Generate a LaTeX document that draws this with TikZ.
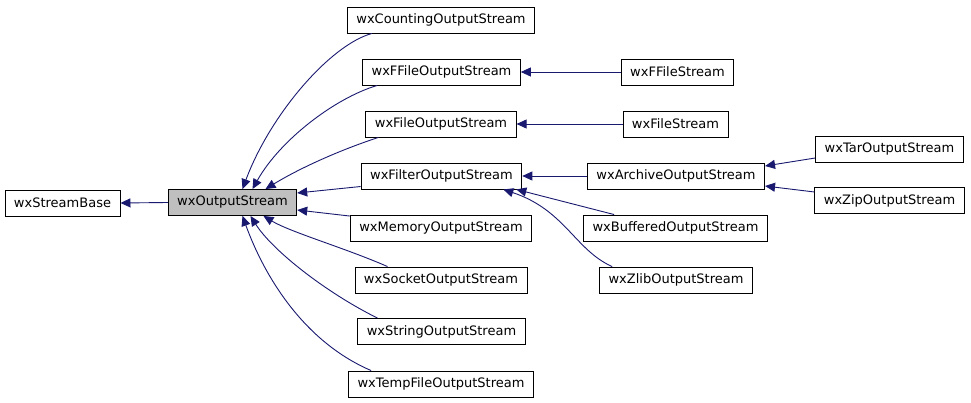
\documentclass[tikz,border=0pt]{standalone}
\usepackage{fontspec}
\setmainfont{DejaVu Sans}
\usetikzlibrary{arrows.meta, calc, positioning}
\definecolor{dxNavy}{HTML}{191970}
\definecolor{dxGrey}{HTML}{BFBFBF}
\tikzset{
  classbox/.style  = {draw=black, line width=0.9pt, fill=white, minimum height=26pt,
                      inner xsep=9pt, inner ysep=0pt, font=\fontsize{13}{15}\selectfont},
  focusbox/.style  = {classbox, fill=dxGrey},
  inherit/.style   = {-{Triangle[length=10pt, width=9pt]}, dxNavy, line width=0.9pt},
}

\begin{document}
\begin{tikzpicture}[x=1pt,y=-1pt]
  \useasboundingbox (0,0) rectangle (971,403);
  % base classes
  \node[classbox] (base) at (62.5,203) {wxStreamBase};
  \node[focusbox] (out)  at (232.5,202.5) {wxOutputStream};
  % direct subclasses
  \node[classbox] (count)   at (441,20)    {wxCountingOutputStream};
  \node[classbox] (ffout)   at (441.5,72)  {wxFFileOutputStream};
  \node[classbox] (fileout) at (441,124)   {wxFileOutputStream};
  \node[classbox] (filter)  at (441.5,176) {wxFilterOutputStream};
  \node[classbox] (mem)     at (441,228.5) {wxMemoryOutputStream};
  \node[classbox] (sock)    at (441,280)   {wxSocketOutputStream};
  \node[classbox] (str)     at (441.5,331.5) {wxStringOutputStream};
  \node[classbox] (temp)    at (441,384)   {wxTempFileOutputStream};
  % third column
  \node[classbox] (ffile) at (677.5,72)  {wxFFileStream};
  \node[classbox] (file)  at (675.5,124) {wxFileStream};
  \node[classbox] (arch)  at (676,176)   {wxArchiveOutputStream};
  \node[classbox] (buff)  at (675.5,228) {wxBufferedOutputStream};
  \node[classbox] (zlib)  at (676,280)   {wxZlibOutputStream};
  % archive formats
  \node[classbox] (tar) at (889.5,149)   {wxTarOutputStream};
  \node[classbox] (zip) at (889.5,200.5) {wxZipOutputStream};

  % inheritance arrows
  \draw[inherit] (out.west) -- (base.east);
  \draw[inherit] ([xshift=25pt]count.south west) .. controls (330,45) and (270,115) .. ([xshift=10pt]out.north);
  \draw[inherit] ([xshift=15pt]ffout.south west) .. controls (335,98) and (280,140) .. ([xshift=20pt]out.north);
  \draw[inherit] ([xshift=13pt]fileout.south west) .. controls (340,150) and (300,168) .. ([xshift=33pt]out.north);
  \draw[inherit] ([yshift=-10.5pt]filter.west) -- ([yshift=9.5pt]out.east);
  \draw[inherit] ([yshift=-1pt]mem.north west) -- ([yshift=-7.5pt]out.east);
  \draw[inherit] ([xshift=33pt]sock.north west) .. controls (345,248) and (290,232) .. ([xshift=31pt]out.south);
  \draw[inherit] ([xshift=20pt]str.north west) .. controls (325,292) and (272,250) .. ([xshift=18pt]out.south);
  \draw[inherit] ([xshift=23pt]temp.north west) .. controls (300,340) and (262,270) .. ([xshift=10pt]out.south);
  \draw[inherit] (ffile.west) -- (ffout.east);
  \draw[inherit] (file.west) -- (fileout.east);
  \draw[inherit] (arch.west) -- (filter.east);
  \draw[inherit] ([xshift=31pt]buff.north west) -- ([xshift=-6pt]filter.south east);
  \draw[inherit] ([xshift=13pt]zlib.north west) .. controls (575,250) and (565,210) .. ([xshift=-19pt]filter.south east);
  \draw[inherit] ([yshift=-9pt]tar.west) -- ([yshift=10pt]arch.east);
  \draw[inherit] ([yshift=8.5pt]zip.west) -- ([yshift=-10pt]arch.east);
\end{tikzpicture}
\end{document}
